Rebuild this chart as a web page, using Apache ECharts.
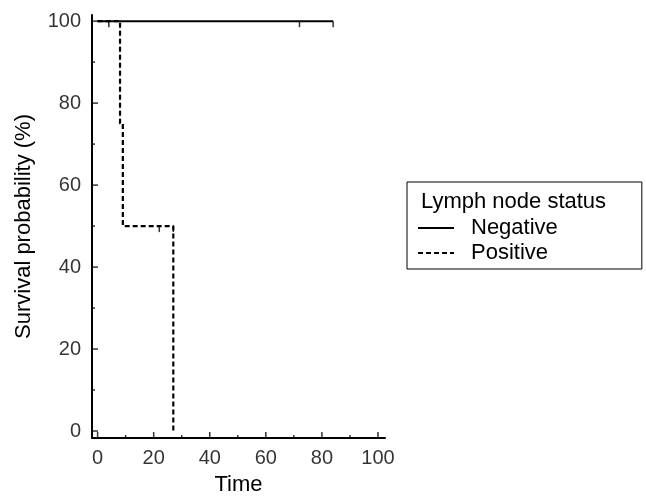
<!DOCTYPE html>
<html>
<head>
<meta charset="utf-8">
<script src="https://cdn.jsdelivr.net/npm/echarts@6/dist/echarts.min.js"></script>
<style>
html,body{margin:0;padding:0;background:#fff;}
#chart{width:646px;height:496px;}
</style>
</head>
<body>
<div id="chart"></div>
<script>
// Kaplan-Meier curves (time, survival %)
var negativeCurve = [[0, 100], [84, 100]];
var positiveCurve = [[0, 100], [8, 100], [8, 75], [9, 75], [9, 50], [27, 50], [27, 0]];
// censored observations
var negativeCensor = [[4, 100], [72, 100], [84, 100]];
var positiveCensor = [[22, 50], [27, 50]];
var xTicks = [0, 20, 40, 60, 80, 100];
var yTicks = [0, 20, 40, 60, 80, 100];
var minorTicks = [10, 30, 50, 70, 90];

var font = 'Liberation Sans, Arial, sans-serif';
var fs = 20;     // tick labels
var fsName = 22; // axis names and legend
var xMin = -2, xMax = 102.5, yMin = -1.7, yMax = 101.5;
var myChart = echarts.init(document.getElementById('chart'));

var option = {
    animation: false,
    grid: {left: 92, right: 261, top: 15, bottom: 58, outerBoundsMode: 'none', containLabel: false},
    title: {
        text: 'Lymph node status',
        left: 421, top: 191,
        padding: 0,
        textStyle: {fontFamily: font, fontSize: fsName, fontWeight: 'normal', color: '#000'}
    },
    legend: {
        orient: 'vertical',
        left: 407, top: 182,
        padding: [35, 84, 5, 10],
        itemGap: 3,
        itemWidth: 36,
        itemHeight: 18,
        borderColor: '#000',
        borderWidth: 1,
        borderRadius: 0,
        itemStyle: {opacity: 0},
        data: ['Negative', 'Positive'],
        textStyle: {fontFamily: font, fontSize: fsName, color: '#000', padding: [0, 0, 0, 12]}
    },
    xAxis: {
        type: 'value',
        min: xMin, max: xMax,
        name: 'Time', nameLocation: 'middle', nameGap: 36,
        nameTextStyle: {fontFamily: font, fontSize: fsName, color: '#000'},
        axisLine: {onZero: false, lineStyle: {color: '#000', width: 2}},
        axisTick: {show: false},
        splitLine: {show: false},
        axisLabel: {show: false}
    },
    yAxis: {
        type: 'value',
        min: yMin, max: yMax,
        name: 'Survival probability (%)', nameLocation: 'middle', nameGap: 57,
        nameTextStyle: {fontFamily: font, fontSize: fsName, color: '#000'},
        axisLine: {onZero: false, lineStyle: {color: '#000', width: 2}},
        axisTick: {show: false},
        splitLine: {show: false},
        axisLabel: {show: false}
    },
    series: []
};

// inward tick marks and labels, placed through the axes
var xLab = xTicks.map(function (v) { return [v, yMin]; });
var yLab = yTicks.map(function (v) { return [xMin, v]; });
var xMinor = minorTicks.map(function (v) { return [v, yMin]; });
var yMinor = minorTicks.map(function (v) { return [xMin, v]; });

option.series.push({
    type: 'scatter', data: xLab, symbol: 'rect', symbolSize: [1.5, 6], symbolOffset: [0, -3],
    itemStyle: {color: '#000'}, silent: true,
    label: {show: true, position: 'bottom', distance: 10, formatter: function (p) { return p.value[0]; },
        fontFamily: font, fontSize: fs, color: '#000'}
});
option.series.push({
    type: 'scatter', data: xMinor, symbol: 'rect', symbolSize: [1.5, 3], symbolOffset: [0, -1.5],
    itemStyle: {color: '#000'}, silent: true
});
option.series.push({
    type: 'scatter', data: yLab, symbol: 'rect', symbolSize: [6, 1.5], symbolOffset: [3, 0],
    itemStyle: {color: '#000'}, silent: true,
    label: {show: true, position: 'left', distance: 11, formatter: function (p) { return p.value[1]; },
        fontFamily: font, fontSize: fs, color: '#000'}
});
option.series.push({
    type: 'scatter', data: yMinor, symbol: 'rect', symbolSize: [3, 1.5], symbolOffset: [1.5, 0],
    itemStyle: {color: '#000'}, silent: true
});

option.series.push({
    name: 'Negative', type: 'line', data: negativeCurve, symbol: 'none',
    lineStyle: {color: '#000', width: 2}, itemStyle: {color: '#000'}
});
option.series.push({
    name: 'Positive', type: 'line', data: positiveCurve, symbol: 'none',
    lineStyle: {color: '#000', width: 2.2, type: [5, 3]}, itemStyle: {color: '#000'}
});
option.series.push({
    type: 'scatter', data: negativeCensor.concat(positiveCensor), symbol: 'rect',
    symbolSize: [1.5, 6], symbolOffset: [0, 3], itemStyle: {color: '#000'}, silent: true
});

myChart.setOption(option);
</script>
</body>
</html>
